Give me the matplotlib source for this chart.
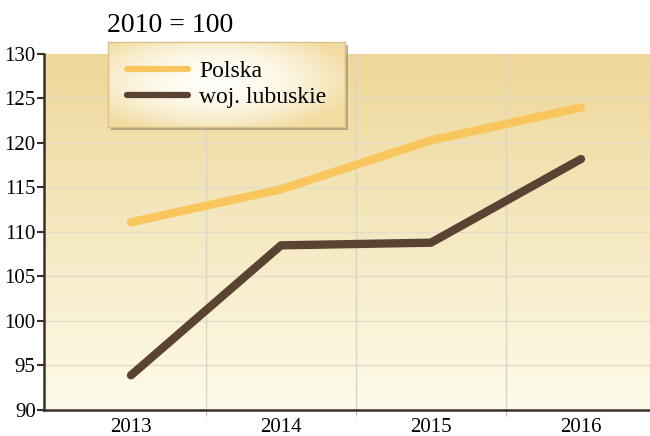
import matplotlib.pyplot as plt
import numpy as np
from matplotlib.patches import Rectangle

years = ["2013", "2014", "2015", "2016"]
polska = [111.1, 114.8, 120.3, 124.0]
lubuskie = [93.9, 108.5, 108.8, 118.2]
y_ticks = [90, 95, 100, 105, 110, 115, 120, 125, 130]

plt.rcParams['font.family'] = ['Liberation Serif', 'DejaVu Serif']

fig = plt.figure(figsize=(6.5, 4.36), dpi=100)
ax = fig.add_axes([44 / 650, 26 / 436, 1 - 44 / 650, 356 / 436])

x = np.arange(len(years))
ax.set_xlim(-0.58, 3.46)
ax.set_ylim(90, 130)

# vertical background gradient: tan at the top, pale cream at the bottom
top = np.array([0xEE, 0xD7, 0x98]) / 255
bot = np.array([0xFD, 0xFB, 0xEA]) / 255
t = np.linspace(0, 1, 256)[:, None]
grad = (top * (1 - t) + bot * t)[:, None, :]
ax.imshow(grad, extent=[-0.58, 3.46, 90, 130], aspect='auto', zorder=0,
          origin='upper', interpolation='nearest')

for yv in y_ticks[1:-1]:
    ax.axhline(yv, color='#E4DCC8', lw=1, zorder=1)
for xv in [0.5, 1.5, 2.5]:
    ax.axvline(xv, color='#DAD5CB', lw=1, zorder=1)

l1, = ax.plot(x, polska, color='#F8C65C', lw=6, solid_capstyle='round', zorder=3, label='Polska')
l2, = ax.plot(x, lubuskie, color='#5B4334', lw=6, solid_capstyle='round', zorder=3, label='woj. lubuskie')

ax.set_xticks(x)
ax.set_xticklabels(years, fontsize=15)
ax.set_xticks([0.5, 1.5, 2.5], minor=True)
ax.tick_params(axis='x', which='major', length=0, pad=6)
ax.tick_params(axis='x', which='minor', length=4, color='#B8B0A0')
ax.set_yticks(y_ticks)
ax.set_yticklabels([str(v) for v in y_ticks], fontsize=15)
ax.tick_params(axis='y', length=5, width=1.5, color='#3A3028', pad=1)

for s in ['top', 'right']:
    ax.spines[s].set_visible(False)
for s in ['left', 'bottom']:
    ax.spines[s].set_color('#3A3028')
    ax.spines[s].set_linewidth(1.8)

fig.text(170 / 650, 1 - 25 / 436, "2010 = 100", fontsize=20, ha='center', va='center')

# legend box with shadow and soft radial fill
lx, ly, lw_, lh = 108 / 650, 1 - 127 / 436, 237 / 650, 85 / 436
fig.patches.append(Rectangle((lx + 3 / 650, ly - 3 / 436), lw_, lh, transform=fig.transFigure,
                             facecolor='#8A7A60', alpha=0.6, zorder=4))
lax = fig.add_axes([lx, ly, lw_, lh], zorder=5)
gx, gy = np.meshgrid(np.linspace(-1, 1, 200), np.linspace(-1, 1, 80))
r = np.clip(np.sqrt(((gx + 0.1) / 1.2) ** 2 + ((gy + 0.1) / 1.3) ** 2), 0, 1)
inner = np.array([0xFF, 0xFE, 0xF8]) / 255
outer = np.array([0xF2, 0xDC, 0xA2]) / 255
lgrad = inner * (1 - r[..., None] ** 2) + outer * r[..., None] ** 2
lax.imshow(lgrad, extent=[0, 1, 0, 1], aspect='auto')
lax.set_xticks([])
lax.set_yticks([])
for s in lax.spines.values():
    s.set_color('#D9C28E')
    s.set_linewidth(1)

leg = lax.legend(handles=[l1, l2], loc='center left', bbox_to_anchor=(0.0, 0.5), frameon=False,
                 fontsize=17, handlelength=2.6, handletextpad=0.45, labelspacing=0.2,
                 borderaxespad=0.4)
for h in leg.legend_handles:
    h.set_linewidth(4.5)

fig.savefig("out.png", dpi=100)
